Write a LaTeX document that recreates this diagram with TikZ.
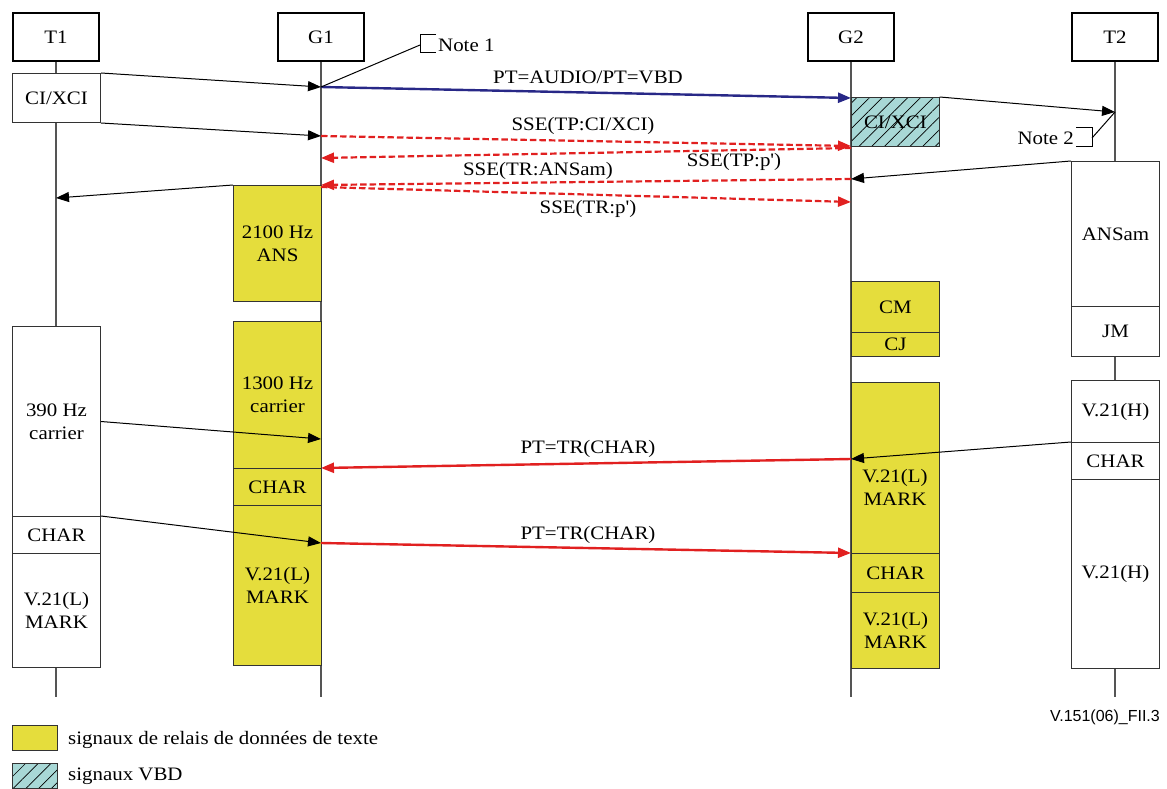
\documentclass[tikz,border=0pt]{standalone}
\usepackage{fontspec}
\setmainfont{Liberation Serif}[FakeStretch=1.1, Ligatures=TeXOff]
\newfontfamily\figsans{Liberation Sans}
\usetikzlibrary{arrows.meta,patterns.meta}
\definecolor{yel}{RGB}{229,221,60}
\definecolor{vbdc}{RGB}{168,216,214}
\definecolor{rred}{RGB}{225,32,32}
\definecolor{bblue}{RGB}{40,40,135}
\definecolor{lifec}{RGB}{85,85,85}
\tikzset{
  txt/.style={font=\fontsize{19}{23}\selectfont, align=center},
  head/.style={draw=black, line width=2.4pt, fill=white, minimum width=86, minimum height=48, inner sep=0pt, txt},
  wbox/.style={draw=black!80, line width=1pt, fill=white, minimum width=88, inner sep=0pt, anchor=north west, txt},
  ybox/.style={draw=black!80, line width=1pt, fill=yel, minimum width=88, inner sep=0pt, anchor=north west, txt},
  hbox/.style={draw=black!80, line width=1pt, preaction={fill=vbdc}, pattern={Lines[angle=45,distance=9pt,line width=0.7pt]}, minimum width=88, inner sep=0pt, anchor=north west, txt},
  life/.style={draw=lifec, line width=1.2pt},
  blk/.style={draw=black, line width=1pt, -{Triangle[length=13pt,width=10pt]}},
  redsolid/.style={draw=rred, line width=2.4pt, -{Triangle[length=13pt,width=10pt]}},
  reddash/.style={draw=rred, line width=2.2pt, dash pattern=on 6.5pt off 3pt, -{Triangle[length=13pt,width=10pt]}},
  bluearr/.style={draw=bblue, line width=2.4pt, -{Triangle[length=13pt,width=10pt]}},
  notel/.style={draw=black, line width=1pt},
  lab/.style={txt, inner sep=1pt}
}
\begin{document}
\begin{tikzpicture}[x=1pt,y=-1pt]
\useasboundingbox (0,0) rectangle (1167,789);
% heads
\node[head] (T1) at (56,37) {T1};
\node[head] (G1) at (321,37) {G1};
\node[head] (G2) at (851,37) {G2};
\node[head] (T2) at (1115,37) {T2};
% lifeline ends
\coordinate (T1e) at (56,697);
\coordinate (G1e) at (321,697);
\coordinate (G2e) at (851,697);
\coordinate (T2e) at (1115,697);
\draw[life] (T1.south) -- (T1e);
\draw[life] (G1.south) -- (G1e);
\draw[life] (G2.south) -- (G2e);
\draw[life] (T2.south) -- (T2e);
% T1 boxes
\node[wbox, minimum height=49] (ci) at (12,73) {CI/XCI};
\node[wbox, minimum height=190] (c390) at (12,326) {390 Hz\\carrier};
\node[wbox, minimum height=37] (t1char) at (12,516) {CHAR};
\node[wbox, minimum height=114] (t1mark) at (12,553) {V.21(L)\\MARK};
% G1 boxes
\node[ybox, minimum height=116, minimum width=88] (ans) at (233,185) {2100 Hz\\ANS};
\node[ybox, minimum height=147] (c1300) at (233,321) {1300 Hz\\carrier};
\node[ybox, minimum height=37] (g1char) at (233,468) {CHAR};
\node[ybox, minimum height=160] (g1mark) at (233,505) {V.21(L)\\MARK};
% G2 boxes
\node[hbox, minimum height=49] (vbd) at (851,97) {CI/XCI};
\node[ybox, minimum height=51] (cm) at (851,281) {CM};
\node[ybox, minimum height=24] (cj) at (851,332) {CJ};
\node[ybox, minimum height=171] (g2mark) at (851,382) {};
\node[ybox, minimum height=39] (g2char) at (851,553) {CHAR};
\node[ybox, minimum height=76] (g2mark2) at (851,592) {V.21(L)\\MARK};
% T2 boxes
\node[wbox, minimum height=145] (ansam) at (1071,161) {ANSam};
\node[wbox, minimum height=50] (jm) at (1071,306) {JM};
\node[wbox, minimum height=62] (v21h) at (1071,380) {V.21(H)};
\node[wbox, minimum height=37] (t2char) at (1071,442) {CHAR};
\node[wbox, minimum height=189] (v21h2) at (1071,479) {V.21(H)};
% lifeline points
\coordinate (g1a) at (321,87);
\coordinate (g2a) at (851,98);
\coordinate (g1b) at (321,136);
\coordinate (g2b) at (851,146);
\coordinate (t2a) at (1115,112);
\coordinate (g2c) at (851,148);
\coordinate (g1c) at (321,158);
\coordinate (g2d) at (851,179);
\coordinate (g1d) at (321,185);
\coordinate (g1e) at (321,187);
\coordinate (g2e) at (851,202);
\coordinate (t1a) at (56,198);
\coordinate (g1f) at (321,439);
\coordinate (g2f) at (851,459);
\coordinate (g1g) at (321,468);
\coordinate (g1h) at (321,543);
\coordinate (g2h) at (851,553);
% black arrows
\draw[blk] (ci.north east) -- (g1a);
\draw[blk] (ci.south east) -- (g1b);
\draw[blk] (vbd.north east) -- (t2a);
\draw[blk] (ansam.north west) -- (g2d);
\draw[blk] (ans.north west) -- (t1a);
\draw[blk] (c390.east) -- (g1f);
\draw[blk] (t1char.north east) -- (g1h);
% coloured arrows
\draw[bluearr] (g1a) -- (g2a);
\draw[reddash] (g1b) -- (g2b);
\draw[reddash] (g2c) -- (g1c);
\draw[reddash] (g2d) -- (g1d);
\draw[reddash] (g1e) -- (g2e);
\draw[redsolid] (g2f) -- (g1g);
\draw[redsolid] (g1h) -- (g2h);
\draw[blk] (t2char.north west) -- (g2f);
% text of the large G2 box
\node[lab] (g2markt) at (895,487) {V.21(L)\\MARK};
% labels
\node[lab] (l1) at (588,77) {PT=AUDIO/PT=VBD};
\node[lab] (l2) at (583,126) {SSE(TP:CI/XCI)};
\node[lab] (l3) at (734,162) {SSE(TP:p')};
\node[lab] (l4) at (538,171) {SSE(TR:ANSam)};
\node[lab] (l5) at (588,209) {SSE(TR:p')};
\node[lab] (l6) at (588,449) {PT=TR(CHAR)};
\node[lab] (l7) at (588,535) {PT=TR(CHAR)};
% notes
\coordinate (n1b) at (420,45);
\draw[notel] (g1a) -- (n1b);
\draw[notel] (436,35) -- (420,35) -- (420,53) -- (436,53);
\node[lab, anchor=west] (note1) at (437,45) {Note 1};
\coordinate (n2b) at (1092,138);
\draw[notel] (t2a) -- (n2b);
\draw[notel] (1076,128) -- (1092,128) -- (1092,147) -- (1076,147);
\node[lab, anchor=east] (note2) at (1075,138) {Note 2};
% figure id
\node[anchor=east, inner sep=0pt, font=\figsans\fontsize{16}{18}\selectfont] (fid) at (1160,717) {V.151(06)\_FII.3};
% legend
\node[draw=black!80, line width=1pt, fill=yel, minimum width=45, minimum height=25, inner sep=0pt, anchor=north west] (leg1) at (12,725) {};
\node[lab, anchor=west] (leg1t) at (67,740) {signaux de relais de données de texte};
\node[hbox, minimum width=45, minimum height=25] (leg2) at (12,763) {};
\node[lab, anchor=west] (leg2t) at (67,776) {signaux VBD};
\end{tikzpicture}
\end{document}
